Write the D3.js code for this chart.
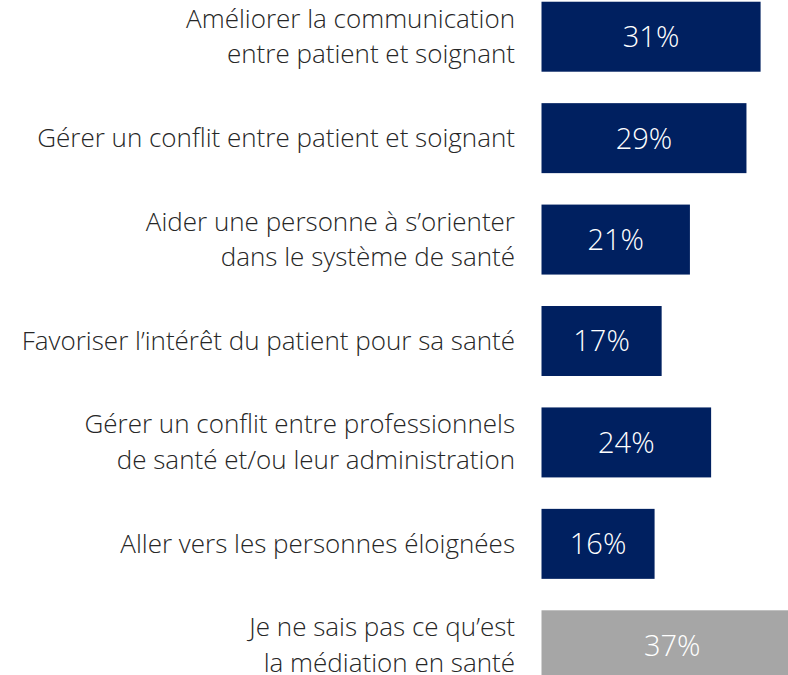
<!DOCTYPE html>
<html>
<head>
<meta charset="utf-8">
<script src="https://cdn.jsdelivr.net/npm/d3@7"></script>
<style>
  body { margin: 0; background: #fff; }
  text { font-family: "Open Sans", sans-serif; font-weight: 300; }
</style>
</head>
<body>
<svg id="chart" width="788" height="675"></svg>
<script>
// labels (one entry per line of text)
const categories = [
    ["Améliorer la communication", "entre patient et soignant"],
    ["Gérer un conflit entre patient et soignant"],
    ["Aider une personne à s’orienter", "dans le système de santé"],
    ["Favoriser l’intérêt du patient pour sa santé"],
    ["Gérer un conflit entre professionnels", "de santé et/ou leur administration"],
    ["Aller vers les personnes éloignées"],
    ["Je ne sais pas ce qu’est", "la médiation en santé"]
];
const values = [31, 29, 21, 17, 24, 16, 37];
const colors = ["#002060", "#002060", "#002060", "#002060", "#002060", "#002060", "#A6A6A6"];

const svg = d3.select('#chart');

const x = d3.scaleLinear()
    .domain([0, 37])
    .range([541.5, 803]);

const y = d3.scaleBand()
    .domain(d3.range(values.length))
    .range([-14, 696])
    .paddingInner(0.31)
    .paddingOuter(0.155);

const rows = svg.selectAll('g.row')
    .data(values)
    .enter()
    .append('g')
    .attr('class', 'row');

rows.append('rect')
    .attr('x', x(0))
    .attr('y', (d, i) => y(i))
    .attr('width', d => x(d) - x(0))
    .attr('height', y.bandwidth())
    .attr('fill', (d, i) => colors[i]);

rows.append('text')
    .attr('x', d => (x(0) + x(d)) / 2)
    .attr('y', (d, i) => y(i) + y.bandwidth() / 2)
    .attr('dy', '0.36em')
    .attr('text-anchor', 'middle')
    .attr('fill', '#fff')
    .attr('font-size', 29)
    .text(d => d + '%');

// category labels, right aligned left of the bars
const lineH = 1.37;
rows.append('text')
    .attr('x', 515)
    .attr('y', (d, i) => y(i) + y.bandwidth() / 2)
    .attr('text-anchor', 'end')
    .attr('fill', '#262626')
    .attr('font-size', 26)
    .each(function (d, i) {
        const lines = categories[i];
        const t = d3.select(this);
        const first = 0.34 - (lines.length - 1) * lineH / 2;
        lines.forEach((line, j) => {
            t.append('tspan')
                .attr('x', 515)
                .attr('dy', (j === 0 ? first : lineH) + 'em')
                .text(line);
        });
    });
</script>
</body>
</html>
